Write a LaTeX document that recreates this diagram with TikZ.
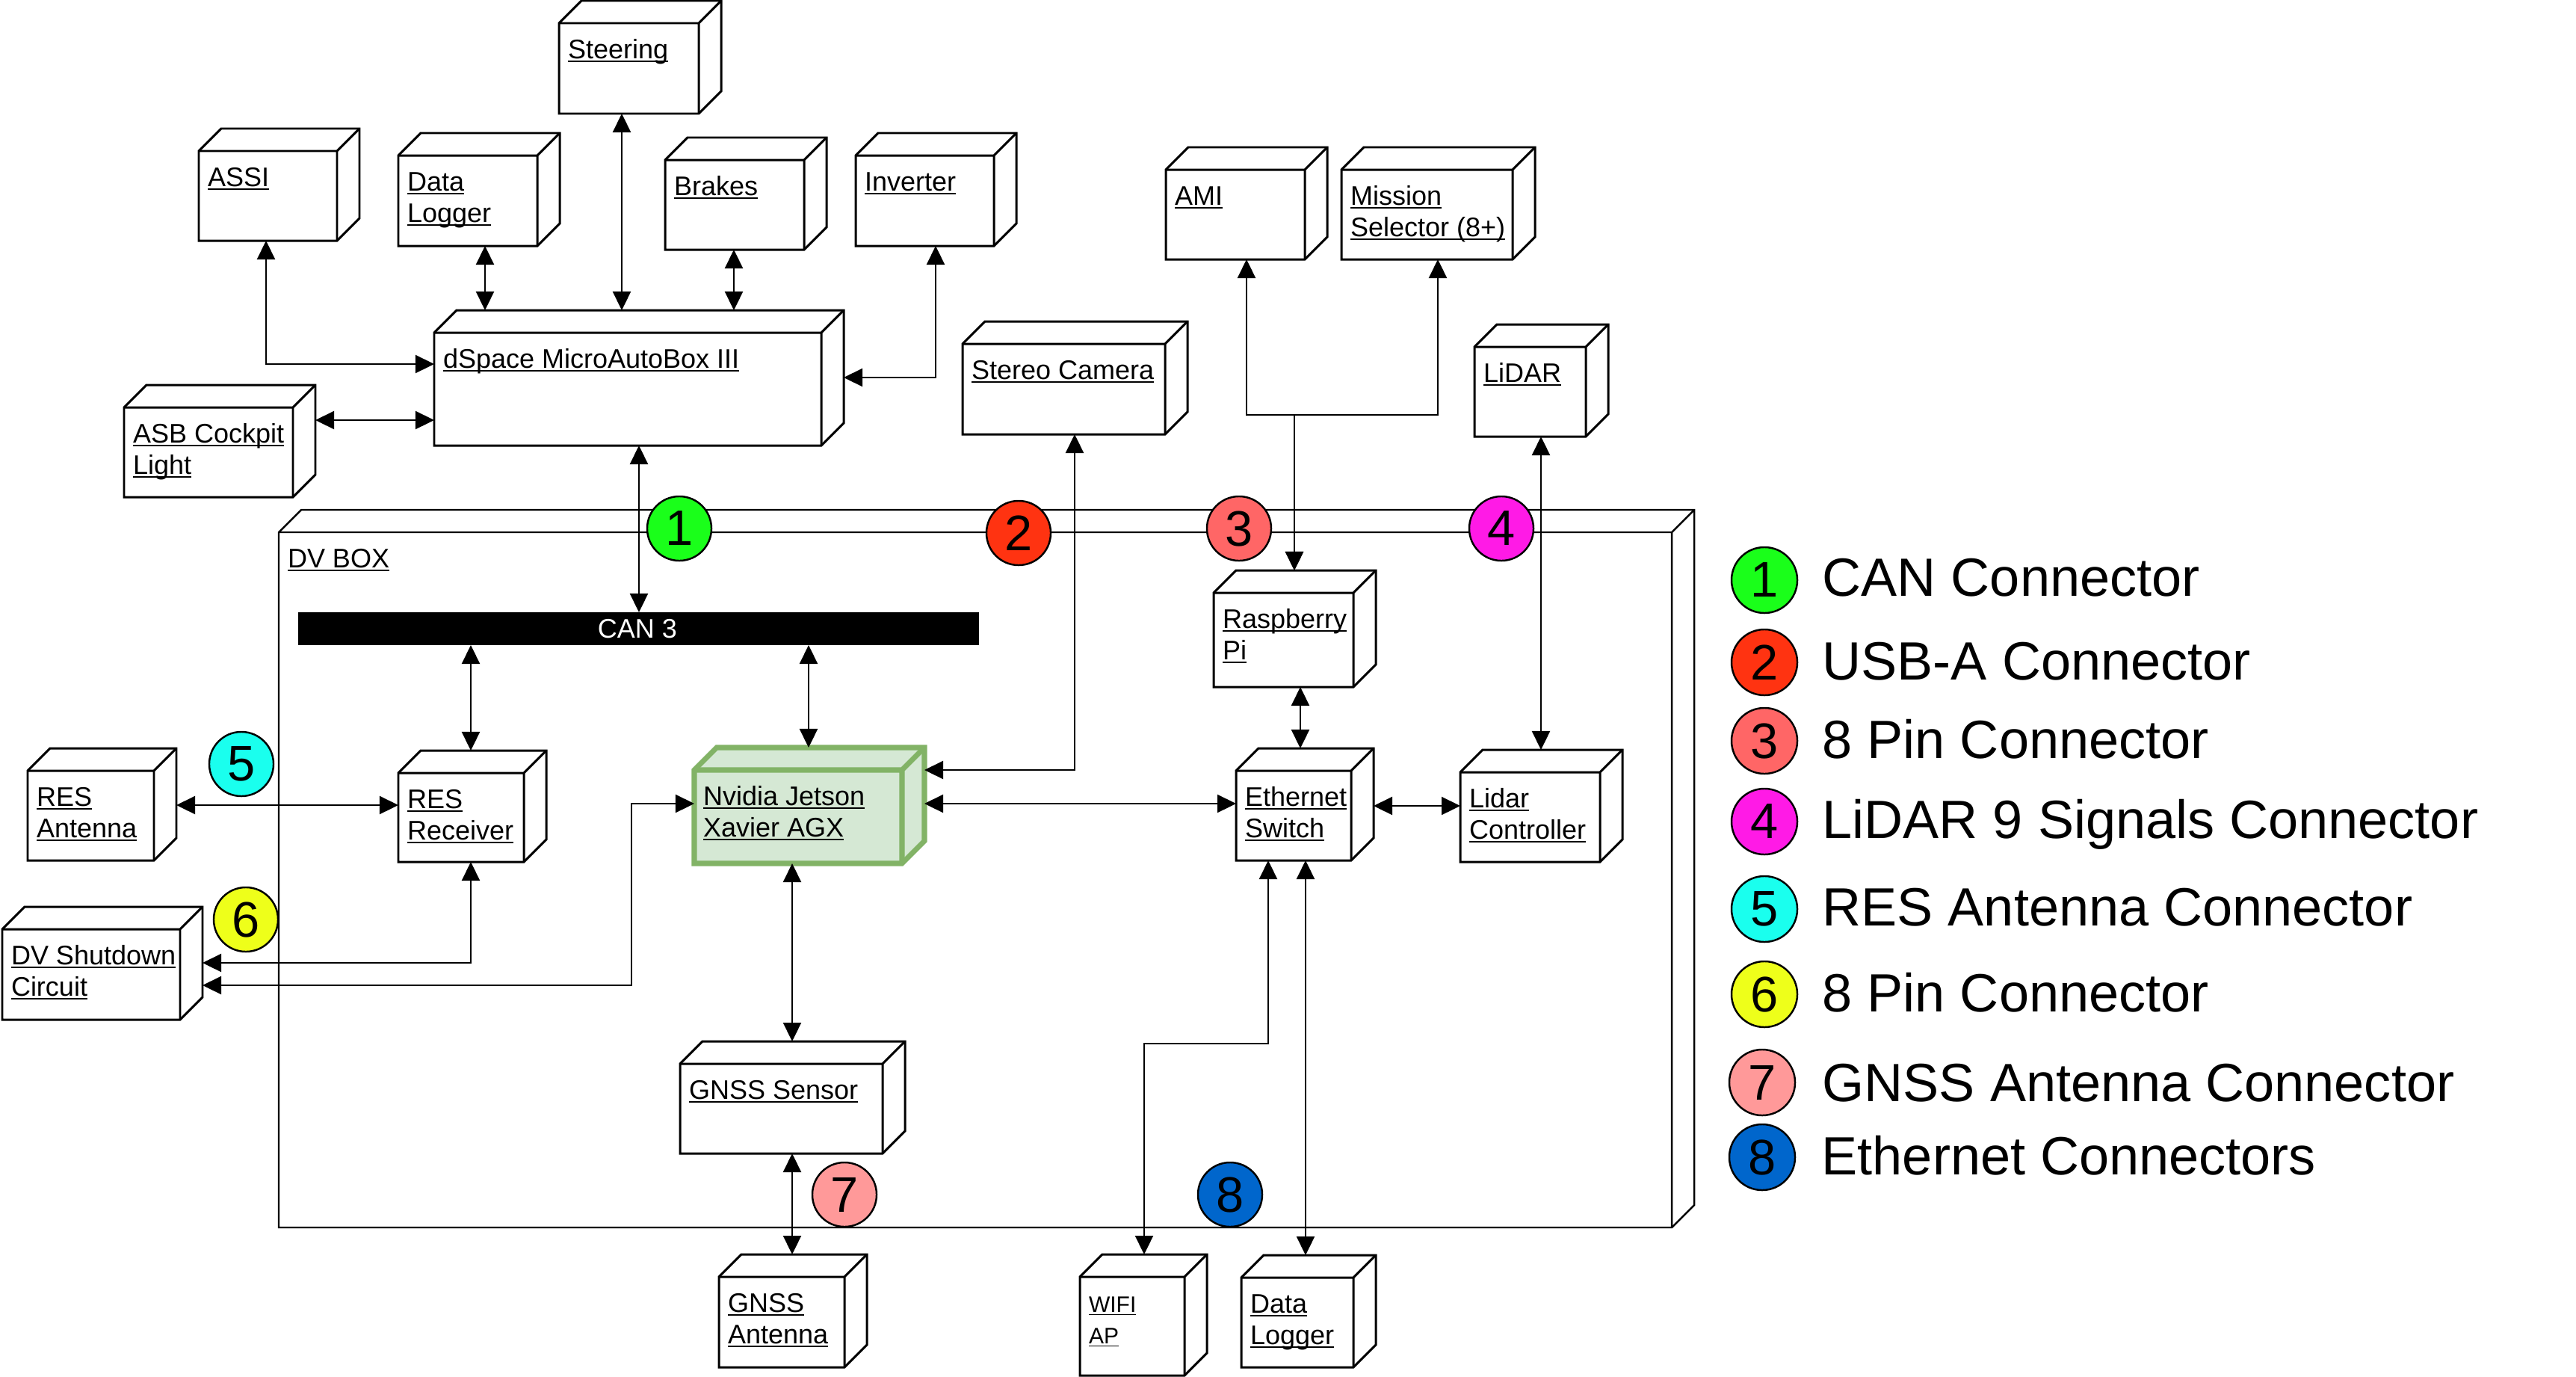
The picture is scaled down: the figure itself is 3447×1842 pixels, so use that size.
\documentclass[tikz,border=0pt]{standalone}
\usepackage{fontspec}
\setmainfont{Liberation Sans}
\usetikzlibrary{arrows.meta,fit}
\definecolor{cOne}{HTML}{1AFF1A}
\definecolor{cTwo}{HTML}{FF3311}
\definecolor{cThree}{HTML}{FF6666}
\definecolor{cFour}{HTML}{FF1AE6}
\definecolor{cFive}{HTML}{1AFFEE}
\definecolor{cSix}{HTML}{EEFF1A}
\definecolor{cSeven}{HTML}{FF9999}
\definecolor{cEight}{HTML}{0066CC}
\definecolor{nvFill}{HTML}{D5E8D4}
\definecolor{nvLine}{HTML}{82B366}
\newcommand{\ulx}[1]{\setbox0\hbox{#1}\rlap{\rule[-0.13em]{\wd0}{0.06em}}\box0}
\newcommand{\boxfont}{\fontsize{10.24}{11.95}\selectfont}
\newcommand{\wififont}{\fontsize{8.54}{11.95}\selectfont}
\newcommand{\cubebox}[7][]{%
  \filldraw[cubeline,#1] (#3,#4) -- ++(30,-30) -- ++(#5,0) -- ++(0,#6) -- ++(-30,30) -- ++(-#5,0) -- cycle;
  \draw[cubeline,#1,fill=none] (#3,#4) -- ++(#5,0) -- ++(30,-30) (#3+#5,#4) -- ++(0,#6);
  \node[fit={(#3,#4) (#3+#5,#4+#6)},inner sep=0pt,outer sep=0pt] (#2) {};
  \coordinate (#2-bt) at (#3+30,#4-30);
  \coordinate (#2-br) at (#3+#5+30,#4-30);
  \node[boxtext] (#2-txt) at (#3+12,#4+15) {\rule{0pt}{0.324cm}#7};
}
\begin{document}
\begin{tikzpicture}[x=0.01cm,y=-0.01cm,
  cubeline/.style={line width=0.85pt,draw=black,fill=white},
  dvline/.style={line width=0.7pt},
  nvstyle/.style={draw=nvLine,fill=nvFill,line width=2pt},
  boxtext/.style={anchor=north west,inner sep=0pt,outer sep=0pt,align=left,font=\boxfont},
  bi/.style={line width=0.65pt,{Triangle[length=0.25cm,width=0.24cm]}-{Triangle[length=0.25cm,width=0.24cm]}},
  badge/.style={circle,draw=black,line width=0.7pt,minimum size=0.86cm,inner sep=0pt,font=\fontsize{19}{19}\selectfont},
  lbadge/.style={badge,minimum size=0.88cm},
  legtext/.style={anchor=base west,inner sep=0pt,font=\fontsize{20.5}{24}\selectfont}]
\fill[white] (0,0) rectangle (3447,1842);
\useasboundingbox (0,0) rectangle (3447,1842);

% DV box
\cubebox[dvline]{dvbox}{373}{712}{1864}{930}{\ulx{DV BOX}}

% connector badges on the box
\node[badge,fill=cOne] (b1) at (909,707) {1};
\node[badge,fill=cTwo] (b2) at (1363,713) {2};
\node[badge,fill=cThree] (b3) at (1658,707) {3};
\node[badge,fill=cFour] (b4) at (2009,707) {4};
\node[badge,fill=cFive] (b5) at (323,1022) {5};
\node[badge,fill=cSix] (b6) at (329,1230) {6};
\node[badge,fill=cSeven] (b7) at (1130,1598) {7};
\node[badge,fill=cEight] (b8) at (1646,1598) {8};

% CAN bus bar
\node[fit={(399,819) (1310,863)},inner sep=0pt,outer sep=0pt,fill=black] (can3) {};
\node[inner sep=0pt,text=white,font=\boxfont] (can3t) at (853,841) {CAN 3};

% components
\cubebox{steer}{748}{31}{187}{121}{\ulx{Steering}}
\cubebox{assi}{266}{202}{185}{120}{\ulx{ASSI}}
\cubebox{dlA}{533}{208}{186}{121}{\ulx{Data}\\\ulx{Logger}}
\cubebox{brakes}{890}{214}{186}{120}{\ulx{Brakes}}
\cubebox{inv}{1145}{208}{185}{121}{\ulx{Inverter}}
\cubebox{ds}{581}{445}{518}{151}{\ulx{dSpace MicroAutoBox III}}
\cubebox{asb}{166}{545}{226}{120}{\ulx{ASB Cockpit}\\\ulx{Light}}
\cubebox{ami}{1560}{227}{186}{120}{\ulx{AMI}}
\cubebox{mission}{1795}{227}{229}{120}{\ulx{Mission}\\\ulx{Selector (8+)}}
\cubebox{stereo}{1288}{460}{271}{121}{\ulx{Stereo Camera}}
\cubebox{lidar}{1973}{464}{149}{120}{\ulx{LiDAR}}
\cubebox{rpi}{1624}{793}{187}{126}{\ulx{Raspberry}\\\ulx{Pi}}
\cubebox{eth}{1654}{1031}{154}{120}{\ulx{Ethernet}\\\ulx{Switch}}
\cubebox{lctrl}{1954}{1033}{187}{120}{\ulx{Lidar}\\\ulx{Controller}}
\cubebox{resant}{37}{1031}{169}{120}{\ulx{RES}\\\ulx{Antenna}}
\cubebox{resrec}{533}{1034}{168}{119}{\ulx{RES}\\\ulx{Receiver}}
\cubebox[nvstyle]{nv}{929}{1030}{278}{125}{\ulx{Nvidia Jetson}\\\ulx{Xavier AGX}}
\cubebox{dvs}{3}{1243}{238}{121}{\ulx{DV Shutdown}\\\ulx{Circuit}}
\cubebox{gnss}{910}{1423}{271}{120}{\ulx{GNSS Sensor}}
\cubebox{gant}{962}{1708}{168}{121}{\ulx{GNSS}\\\ulx{Antenna}}
\cubebox{wifi}{1445}{1708}{140}{132}{\wififont\ulx{WIFI}\\\wififont\ulx{AP}}
\cubebox{dlB}{1661}{1709}{150}{120}{\ulx{Data}\\\ulx{Logger}}

% routing columns and rows
\coordinate (xAssi) at (356,0);
\coordinate (xDl) at (649,0);
\coordinate (xSteer) at (832,0);
\coordinate (xBrk) at (982,0);
\coordinate (xInv) at (1252,0);
\coordinate (xCan) at (855,0);
\coordinate (xStereo) at (1438,0);
\coordinate (xAmi) at (1668,0);
\coordinate (xMis) at (1924,0);
\coordinate (xRpi) at (1732,0);
\coordinate (xRE) at (1740,0);
\coordinate (xLid) at (2062,0);
\coordinate (xRes) at (630,0);
\coordinate (xNv) at (1082,0);
\coordinate (xGn) at (1060,0);
\coordinate (xBend) at (845,0);
\coordinate (xEw) at (1697,0);
\coordinate (xWifi) at (1531,0);
\coordinate (xEd) at (1747,0);
\coordinate (yAssi) at (0,487);
\coordinate (yInv) at (0,505);
\coordinate (yAmi) at (0,555);
\coordinate (yAsb) at (0,562);
\coordinate (yStereo) at (0,1030);
\coordinate (yNvEth) at (0,1075);
\coordinate (yEthL) at (0,1078);
\coordinate (yRes) at (0,1077);
\coordinate (yDvsA) at (0,1288);
\coordinate (yDvsB) at (0,1318);
\coordinate (yWifi) at (0,1396);

% connectors
\draw[bi] (assi.south -| xAssi) |- (ds.west |- yAssi);
\draw[bi] (dlA.south -| xDl) -- (ds-bt -| xDl);
\draw[bi] (steer.south -| xSteer) -- (ds-bt -| xSteer);
\draw[bi] (brakes.south -| xBrk) -- (ds-bt -| xBrk);
\draw[bi] (inv.south -| xInv) |- (ds-br |- yInv);
\draw[bi] (asb-br |- yAsb) -- (ds.west |- yAsb);
\draw[bi] (ds.south -| xCan) -- (can3.north -| xCan);
\draw[bi] (stereo.south -| xStereo) |- (nv-br |- yStereo);
\draw[bi] (rpi-bt -| xRpi) |- (xAmi |- yAmi) -- (ami.south -| xAmi);
\draw[bi] (rpi-bt -| xRpi) |- (xMis |- yAmi) -- (mission.south -| xMis);
\draw[bi] (rpi.south -| xRE) -- (eth-bt -| xRE);
\draw[bi] (lidar.south -| xLid) -- (lctrl-bt -| xLid);
\draw[bi] (nv-br |- yNvEth) -- (eth.west |- yNvEth);
\draw[bi] (eth-br |- yEthL) -- (lctrl.west |- yEthL);
\draw[bi] (resant-br |- yRes) -- (resrec.west |- yRes);
\draw[bi] (can3.south -| xRes) -- (resrec-bt -| xRes);
\draw[bi] (can3.south -| xNv) -- (nv-bt -| xNv);
\draw[bi] (resrec.south -| xRes) |- (dvs-br |- yDvsA);
\draw[bi] (nv.west |- yNvEth) -| (xBend |- yDvsB) -- (dvs-br |- yDvsB);
\draw[bi] (nv.south -| xGn) -- (gnss-bt -| xGn);
\draw[bi] (gnss.south -| xGn) -- (gant-bt -| xGn);
\draw[bi] (eth.south -| xEw) |- (xWifi |- yWifi) -- (wifi-bt -| xWifi);
\draw[bi] (eth.south -| xEd) -- (dlB-bt -| xEd);

% legend
\node[lbadge,fill=cOne] (l1) at (2361,776) {1};
\node[legtext] (lt1) at (2438,797) {CAN Connector};
\node[lbadge,fill=cTwo] (l2) at (2361,886) {2};
\node[legtext] (lt2) at (2438,909) {USB-A Connector};
\node[lbadge,fill=cThree] (l3) at (2361,991) {3};
\node[legtext] (lt3) at (2438,1014) {8 Pin Connector};
\node[lbadge,fill=cFour] (l4) at (2361,1099) {4};
\node[legtext] (lt4) at (2438,1121) {LiDAR 9 Signals Connector};
\node[lbadge,fill=cFive] (l5) at (2361,1216) {5};
\node[legtext] (lt5) at (2438,1238) {RES Antenna Connector};
\node[lbadge,fill=cSix] (l6) at (2361,1330) {6};
\node[legtext] (lt6) at (2438,1353) {8 Pin Connector};
\node[lbadge,fill=cSeven] (l7) at (2358,1448) {7};
\node[legtext] (lt7) at (2438,1473) {GNSS Antenna Connector};
\node[lbadge,fill=cEight] (l8) at (2358,1548) {8};
\node[legtext] (lt8) at (2437,1571) {Ethernet Connectors};
\end{tikzpicture}
\end{document}
